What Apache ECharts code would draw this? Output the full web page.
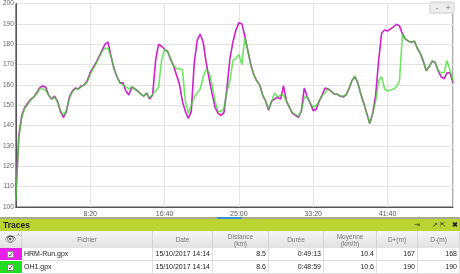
<!DOCTYPE html>
<html><head><meta charset="utf-8">
<script src="https://cdn.jsdelivr.net/npm/echarts@6/dist/echarts.min.js"></script>
<style>
html,body{margin:0;padding:0;background:#fff;}
#wrap{position:relative;width:460px;height:274px;overflow:hidden;font-family:"Liberation Sans",Arial,sans-serif;}
#chart{position:absolute;left:0;top:0;width:460px;height:274px;}
#panel{position:absolute;left:0;top:217px;width:460px;height:57px;}
.abs{position:absolute;box-sizing:border-box;}
.th{color:#777;font-size:6.5px;text-align:center;line-height:7px;display:flex;align-items:center;justify-content:center;border-right:1px solid #d4d4d4;background:linear-gradient(#f4f4f4,#e2e2e2);}
.td{font-size:7px;color:#222;border-right:1px solid #ddd;border-bottom:1px solid #ddd;line-height:12px;padding:0 2px;white-space:nowrap;}
.r{text-align:right;}
</style></head><body>
<div id="wrap"><div id="chart"></div><div id="panel"></div></div>
<script>
const secs = [0,20,40,60,80,100,120,140,160,180,200,220,240,260,280,300,320,340,360,380,400,420,440,460,480,500,520,540,560,580,600,620,640,660,680,700,720,740,760,780,800,820,840,860,880,900,920,940,960,980,1000,1020,1040,1060,1080,1100,1120,1140,1160,1180,1200,1220,1240,1260,1280,1300,1320,1340,1360,1380,1400,1420,1440,1460,1480,1500,1520,1540,1560,1580,1600,1620,1640,1660,1680,1700,1720,1740,1760,1780,1800,1820,1840,1860,1880,1900,1920,1940,1960,1980,2000,2020,2040,2060,2080,2100,2120,2140,2160,2180,2200,2220,2240,2260,2280,2300,2320,2340,2360,2380,2400,2420,2440,2460,2480,2500,2520,2540,2560,2580,2600,2620,2640,2660,2680,2700,2720,2740,2760,2780,2800,2820,2840,2860,2880,2900,2920,2940];
const hrmRun = [106,135,145,149,151,153,154,156,158.5,159.5,
159,155,153,154.5,152,147,144,147,154,157,
158.5,158,159.5,160,162,166,168.5,171,174,177,
180,181,174,168,164,161,161,157,155,159,
158,157,155.5,154.5,156,153,155,172,180,179,
177.5,176.5,172.7,169.5,165,160.5,152,147,143.5,147,
171,182,185,181,171,163,155.6,149,146,145,
146.5,158.5,173,181,187,190.5,190,184,177,170,
165,162,160,155,152,147.5,152,153,154,153,
159.5,152,149,146,145,144,147,158.5,154,151,
147.3,148,152,155,158.5,158,157,155.5,155.5,154.5,
154,155,158,162,164,161,155.5,151,146,141,
146,155,172,185.5,187,186.5,187.5,188.5,189.8,189,
185,182.5,181.5,181,181.5,178,175.5,171.7,167,169,
171.7,171,167,164,163,166,166,161];
const oh1 = [103,134,144,148.5,150.5,152.5,154,155.5,158,158,
157.5,155,153,154,151.5,147.5,145,147.5,153.5,156.5,
158,158,159,160,161.5,165,168,170.5,173.5,176.5,
178,178,174,168,164,161,160,159,158,159,
158,157,155.5,154.5,156,153.5,155.5,157,159,172,
177.5,176.5,172.7,169.5,168,168,167.5,152,146,150,
154,156,158,164,167.5,166,160,152,147,147,
148.5,157,162,172,173,175,170,183,177,170,
165,162,160,155,152,148,152,156,154,155,
155,152,149,146.5,145.5,144.5,147,154,154,151,
149,150,152,155,156,158,157,155.5,155.5,154.5,
154.5,155,158,162,164.5,161,155.5,151,146,141,
146,152,162,164,158,157,157.5,158,159,162,
185,182.5,181.5,181,181.5,178,175.5,171.7,167,169,
171.7,171,167,166,166,172,167,162];
const yTicks = [100,110,120,130,140,150,160,170,180,190,200];
const xTickSecs = [500,1000,1500,2000,2500];
const traceNames = ["HRM-Run.gpx","OH1.gpx"];
const traceDates = ["15/10/2017 14:14","15/10/2017 14:14"];
const traceDist = ["8.5","8.6"];
const traceDur = ["0:49:13","0:48:59"];
const traceAvg = ["10.4","10.6"];
const traceDplus = ["167","190"];
const traceDminus = ["168","190"];
const headers = ["","Fichier","Date","Distance<br>(km)","Durée","Moyenne<br>(km/h)","D+(m)","D-(m)"];

const C_M = '#cc22cc', C_G = '#33dd22';
function fmt(v){const m=Math.floor(v/60),s=Math.round(v%60);return m+':'+(s<10?'0':'')+s;}
const chart = echarts.init(document.getElementById('chart'),null,{renderer:'canvas'});
chart.setOption({
  animation:false,
  backgroundColor:'#fff',
  grid:{left:12,top:3,right:7,bottom:67,show:true,borderColor:'#555',borderWidth:1},
  xAxis:{type:'value',min:0,max:2940,interval:500,
    axisLine:{show:true,lineStyle:{color:'#555'}},axisTick:{show:false},
    axisLabel:{fontSize:7,color:'#555',margin:4,showMinLabel:false,showMaxLabel:false,formatter:fmt,fontFamily:'Liberation Sans'},
    splitLine:{show:true,lineStyle:{color:'#e4e4e4'}}},
  yAxis:{type:'value',min:100,max:200,interval:10,
    axisLine:{show:true,lineStyle:{color:'#555'}},axisTick:{show:false},
    axisLabel:{fontSize:6.5,color:'#666',margin:2,fontFamily:'Liberation Sans'},
    splitLine:{show:true,lineStyle:{color:'#e4e4e4'}}},
  series:[
    {name:traceNames[0],type:'line',showSymbol:false,data:secs.map((t,i)=>[t,hrmRun[i]]),lineStyle:{color:C_M,width:1.6},itemStyle:{color:C_M}},
    {name:traceNames[1],type:'line',showSymbol:false,data:secs.map((t,i)=>[t,oh1[i]]),lineStyle:{color:C_G,width:1.6,opacity:0.7},itemStyle:{color:C_G}}
  ],
  graphic:[
    {type:'rect',shape:{x:430,y:2,width:24,height:11,r:1},style:{fill:'#eeeeee',stroke:'#cccccc'}},
    {type:'text',style:{x:437,y:7.5,text:'-',fontSize:8,fill:'#666',align:'center',verticalAlign:'middle'}},
    {type:'text',style:{x:448,y:7.5,text:'+',fontSize:8,fill:'#666',align:'center',verticalAlign:'middle'}}
  ]
});

// bottom panel
const P = document.getElementById('panel');
let h = '';
h += '<div class="abs" style="left:0;top:0;width:460px;height:2px;background:#a8a890"></div>';
h += '<div class="abs" style="left:217px;top:0;width:25px;height:2px;background:#3a8fd0"></div>';
h += '<div class="abs" style="left:0;top:2px;width:460px;height:12px;background:#bad531"></div>';
h += '<div class="abs" style="left:3px;top:2px;height:12px;line-height:12px;font-size:8.5px;font-weight:bold;color:#222">Traces</div>';
h += '<div class="abs" style="left:414px;top:2px;height:12px;line-height:12px;font-size:7px;color:#333">&#8677;</div>';
h += '<div class="abs" style="left:432px;top:2px;height:12px;line-height:12px;font-size:6.5px;color:#333">&#8599; &#8689;</div>';
h += '<div class="abs" style="left:452px;top:2px;height:12px;line-height:12px;font-size:7px;font-weight:bold;color:#222">&#10006;</div>';
const cols = [0,22,153,213,269,324,377,418,460];
const hy = 14, hh = 17, rh = 13;
for(let c=0;c<8;c++){
  h += '<div class="abs th" style="left:'+cols[c]+'px;top:'+hy+'px;width:'+(cols[c+1]-cols[c])+'px;height:'+hh+'px">'+(c===0?'<span style="font-size:9px;color:#555">&#128065;</span>':headers[c])+'</div>';
}
h += '<div class="abs" style="left:17px;top:'+(hy+1)+'px;font-size:5px;color:#666">&#708;</div>';
const swatch = ['#e620e6','#22dd22'];
const rows = [0,1];
rows.forEach(r=>{
  const y = hy+hh+r*rh;
  h += '<div class="abs" style="left:0;top:'+y+'px;width:22px;height:'+rh+'px;background:'+swatch[r]+';border-bottom:1px solid #fff"></div>';
  h += '<div class="abs" style="left:7px;top:'+(y+3)+'px;width:7px;height:7px;background:#fff;border:1px solid #888;font-size:7px;line-height:6px;text-align:center;color:#222">&#10003;</div>';
  const vals = [traceNames[r],traceDates[r],traceDist[r],traceDur[r],traceAvg[r],traceDplus[r],traceDminus[r]];
  for(let c=1;c<8;c++){
    h += '<div class="abs td'+(c>1?' r':'')+'" style="left:'+cols[c]+'px;top:'+y+'px;width:'+(cols[c+1]-cols[c])+'px;height:'+rh+'px">'+vals[c-1]+'</div>';
  }
});
P.innerHTML = h;
</script>
</body></html>
